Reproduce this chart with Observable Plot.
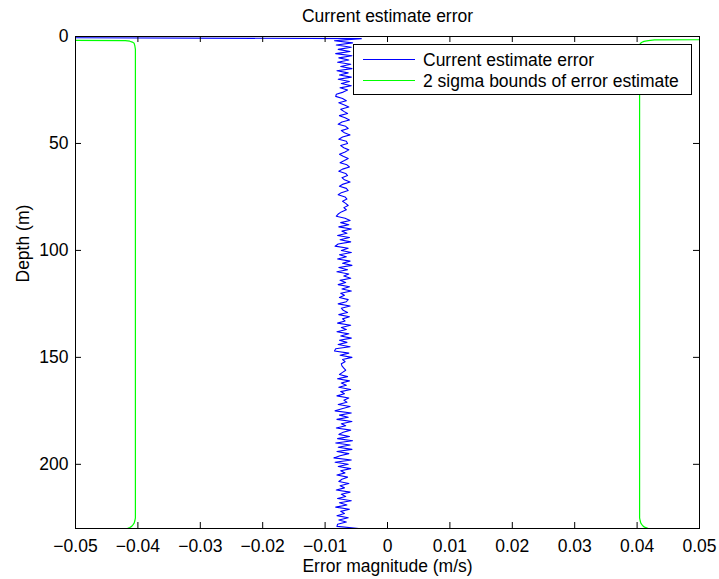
<!DOCTYPE html>
<html>
<head>
<meta charset="utf-8">
<script src="https://cdn.jsdelivr.net/npm/d3@7"></script>
<script src="https://cdn.jsdelivr.net/npm/@observablehq/plot@0.6"></script>
<style>
  html, body { margin: 0; padding: 0; background: white; }
  #chart { width: 719px; height: 579px; }
</style>
</head>
<body>
<div id="chart"></div>
<script>
// ---- data ----
const titleText = "Current estimate error";
const xLabel = "Error magnitude (m/s)";
const yLabel = "Depth (m)";
const seriesNames = ["Current estimate error", "2 sigma bounds of error estimate"];

const xTicks = [-0.05, -0.04, -0.03, -0.02, -0.01, 0, 0.01, 0.02, 0.03, 0.04, 0.05];
const yTicks = [0, 50, 100, 150, 200];

// current estimate error, one value per metre of depth (0 .. 230 m)
const errValues = [
  -0.12, -0.0042, -0.0085, -0.0056, -0.0082, -0.0058, -0.0079, -0.0060, -0.0083, -0.0057,
  -0.0078, -0.0062, -0.0080, -0.0059, -0.0075, -0.0057, -0.0081, -0.0063, -0.0077, -0.0058,
  -0.0079, -0.0061, -0.0074, -0.0058, -0.0076, -0.0064, -0.0071, -0.0082, -0.0083, -0.0072,
  -0.0066, -0.0078, -0.0069, -0.0062, -0.0075, -0.0070, -0.0064, -0.0077, -0.0068, -0.0061,
  -0.0073, -0.0079, -0.0067, -0.0063, -0.0074, -0.0069, -0.0060, -0.0072, -0.0078, -0.0066,
  -0.0064, -0.0075, -0.0070, -0.0062, -0.0068, -0.0077, -0.0071, -0.0063, -0.0069, -0.0076,
  -0.0065, -0.0061, -0.0072, -0.0078, -0.0067, -0.0064, -0.0073, -0.0069, -0.0060, -0.0071,
  -0.0077, -0.0066, -0.0063, -0.0074, -0.0079, -0.0068, -0.0065, -0.0072, -0.0067, -0.0063,
  -0.0070, -0.0066, -0.0074, -0.0079, -0.0082, -0.0068, -0.0060, -0.0075, -0.0062, -0.0078,
  -0.0058, -0.0073, -0.0065, -0.0080, -0.0061, -0.0076, -0.0059, -0.0079, -0.0084, -0.0063,
  -0.0074, -0.0058, -0.0077, -0.0066, -0.0080, -0.0060, -0.0072, -0.0057, -0.0078, -0.0064,
  -0.0081, -0.0062, -0.0070, -0.0059, -0.0076, -0.0067, -0.0079, -0.0061, -0.0073, -0.0058,
  -0.0075, -0.0069, -0.0077, -0.0063, -0.0066, -0.0079, -0.0060, -0.0074, -0.0071, -0.0064,
  -0.0078, -0.0061, -0.0072, -0.0068, -0.0080, -0.0059, -0.0074, -0.0066, -0.0081, -0.0062,
  -0.0075, -0.0058, -0.0077, -0.0065, -0.0079, -0.0060, -0.0083, -0.0085, -0.0062, -0.0076,
  -0.0057, -0.0072, -0.0068, -0.0074, -0.0073, -0.0070, -0.0067, -0.0072, -0.0077, -0.0064,
  -0.0080, -0.0061, -0.0074, -0.0066, -0.0078, -0.0059, -0.0075, -0.0069, -0.0081, -0.0062,
  -0.0070, -0.0065, -0.0079, -0.0060, -0.0073, -0.0084, -0.0058, -0.0077, -0.0063, -0.0081,
  -0.0057, -0.0074, -0.0067, -0.0082, -0.0059, -0.0071, -0.0078, -0.0061, -0.0080, -0.0056,
  -0.0083, -0.0060, -0.0079, -0.0057, -0.0081, -0.0062, -0.0076, -0.0086, -0.0058, -0.0084,
  -0.0063, -0.0079, -0.0059, -0.0075, -0.0068, -0.0081, -0.0064, -0.0073, -0.0078, -0.0062,
  -0.0076, -0.0069, -0.0082, -0.0060, -0.0074, -0.0067, -0.0080, -0.0058, -0.0077, -0.0065,
  -0.0083, -0.0061, -0.0075, -0.0069, -0.0081, -0.0063, -0.0078, -0.0066, -0.0080, -0.0081,
  -0.0046
];

// 2 sigma bounds
const lowerDepth = [0, 1, 1.9, 2.2, 2.6, 3.2, 4.2, 6, 10, 100, 225, 226.5, 227.5, 228.3, 229, 229.5, 230];
const lowerBound = [-0.3, -0.1, -0.0420, -0.0413, -0.0409, -0.0406, -0.0405, -0.0404, -0.0404, -0.0404,
                    -0.0404, -0.0405, -0.0406, -0.0408, -0.0410, -0.0413, -0.0417];
const upperDepth = [0, 1, 1.6, 1.9, 2.3, 2.8, 3.4, 4.5, 6, 10, 100, 225, 226.5, 227.5, 228.3, 229, 229.5, 230];
const upperBound = [0.3, 0.1, 0.0428, 0.0418, 0.0411, 0.0407, 0.0405, 0.0404, 0.0404, 0.0404, 0.0404,
                    0.0404, 0.0405, 0.0406, 0.0408, 0.0410, 0.0413, 0.0418];

// ---- tables for Plot ----
const errData = errValues.map((v, i) => ({depth: i, err: v}));
const lowData = lowerDepth.map((d, i) => ({depth: d, v: lowerBound[i]}));
const upData = upperDepth.map((d, i) => ({depth: d, v: upperBound[i]}));

const FONT = "'Liberation Sans', Arial, Helvetica, sans-serif";
const FS = 17.5;
const BLUE = "#0000ff";
const GREEN = "#00ff00";

const W = 719, H = 579;
const mL = 75, mR = 20, mT = 36, mB = 51;
const innerW = W - mL - mR, innerH = H - mT - mB;
const TICK = 6;

const fmtX = d => d === 0 ? "0" : d3.format(".2f")(d).replace("-", "\u2212");

const chart = Plot.plot({
  width: W,
  height: H,
  marginLeft: mL,
  marginRight: mR,
  marginTop: mT,
  marginBottom: mB,
  style: {fontFamily: FONT, fontSize: FS + "px", background: "white", color: "black"},
  x: {domain: [-0.05, 0.05], axis: null},
  y: {domain: [0, 230], reverse: true, axis: null},
  marks: [
    Plot.line(lowData, {x: "v", y: "depth", stroke: GREEN, strokeWidth: 1.2, clip: true}),
    Plot.line(upData, {x: "v", y: "depth", stroke: GREEN, strokeWidth: 1.2, clip: true}),
    Plot.line(errData, {x: "err", y: "depth", stroke: BLUE, strokeWidth: 1.1, clip: true}),
    // inward tick marks on all four sides
    Plot.ruleX(xTicks, {x: d => d, insetTop: innerH - TICK, stroke: "black", strokeWidth: 1}),
    Plot.ruleX(xTicks, {x: d => d, insetBottom: innerH - TICK, stroke: "black", strokeWidth: 1}),
    Plot.ruleY(yTicks, {y: d => d, insetRight: innerW - TICK, stroke: "black", strokeWidth: 1}),
    Plot.ruleY(yTicks, {y: d => d, insetLeft: innerW - TICK, stroke: "black", strokeWidth: 1}),
    Plot.frame({stroke: "black", strokeWidth: 1}),
    Plot.axisX({ticks: xTicks, tickSize: 0, tickPadding: 11, tickFormat: fmtX, fontSize: FS, label: null, anchor: "bottom"}),
    Plot.axisY({ticks: yTicks, tickSize: 0, tickPadding: 7, tickFormat: d => String(d), fontSize: FS, label: null, anchor: "left"}),
    Plot.text([titleText], {text: d => d, frameAnchor: "top", lineAnchor: "bottom", dy: -15, fontSize: FS, fill: "black"}),
    Plot.text([xLabel], {text: d => d, frameAnchor: "bottom", lineAnchor: "bottom", dy: 43, fontSize: FS, fill: "black"}),
    Plot.text([yLabel], {text: d => d, frameAnchor: "left", lineAnchor: "bottom", rotate: -90, dx: -47, fontSize: FS, fill: "black"})
  ]
});

// legend drawn inside the same SVG
const svg = d3.select(chart);
const lg = svg.append("g").attr("font-family", FONT).attr("font-size", FS).attr("text-anchor", "start");
const LX = 353, LY = 44, LW = 338, LH = 50;
lg.append("rect").attr("x", LX + 0.5).attr("y", LY + 0.5).attr("width", LW).attr("height", LH)
  .attr("fill", "white").attr("stroke", "black").attr("stroke-width", 1);
const rows = [{name: seriesNames[0], color: BLUE, y: 59.5}, {name: seriesNames[1], color: GREEN, y: 80.5}];
rows.forEach(r => {
  lg.append("line").attr("x1", 363).attr("x2", 415).attr("y1", r.y).attr("y2", r.y)
    .attr("stroke", r.color).attr("stroke-width", 1.2);
  lg.append("text").attr("x", 423).attr("y", r.y + 6).attr("fill", "black")
    .attr("text-anchor", "start").text(r.name);
});

document.getElementById("chart").appendChild(chart);
</script>
</body>
</html>
